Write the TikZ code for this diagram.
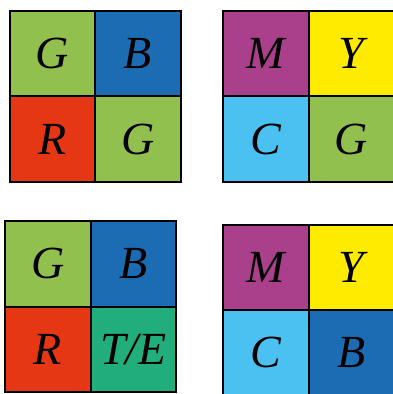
\documentclass[tikz,border=0pt]{standalone}
\usepackage{fontspec}
\setmainfont{Liberation Serif}
\usetikzlibrary{positioning}
\definecolor{pixgreen}{RGB}{146,192,78}
\definecolor{pixblue}{RGB}{28,108,180}
\definecolor{pixred}{RGB}{230,55,20}
\definecolor{pixmagenta}{RGB}{170,64,140}
\definecolor{pixyellow}{RGB}{255,235,0}
\definecolor{pixcyan}{RGB}{74,193,240}
\definecolor{pixteal}{RGB}{34,174,124}
\tikzstyle{pixel} = [
    rectangle,
    minimum size=85.5pt,
    inner sep=0pt,
    line width=2pt,
    draw=black,
    font=\fontsize{46}{46}\selectfont\itshape
]

\begin{document}
\begin{tikzpicture}[x=1pt, y=-1pt, node distance=85.5pt]
\useasboundingbox (0,0) rectangle (393,394);

% Bayer RGGB
\node (bayerG) [pixel, fill=pixgreen] at (52.25,53.5) {G};
\node (bayerB) [pixel, fill=pixblue, right of=bayerG] {B};
\node (bayerR) [pixel, fill=pixred, below of=bayerG] {R};
\node (bayerGG) [pixel, fill=pixgreen, right of=bayerR] {G};

% CMYG
\node (cmygM) [pixel, fill=pixmagenta] at (265.75,53.5) {M};
\node (cmygY) [pixel, fill=pixyellow, right of=cmygM] {Y};
\node (cmygC) [pixel, fill=pixcyan, below of=cmygM] {C};
\node (cmygG) [pixel, fill=pixgreen, right of=cmygC] {G};

% RGB + T/E
\node (rgbeG) [pixel, fill=pixgreen] at (47.75,263.75) {G};
\node (rgbeB) [pixel, fill=pixblue, right of=rgbeG] {B};
\node (rgbeR) [pixel, fill=pixred, below of=rgbeG] {R};
\node (rgbeE) [pixel, fill=pixteal, right of=rgbeR] {T/E};

% CMYB
\node (cmybM) [pixel, fill=pixmagenta] at (265.75,267.25) {M};
\node (cmybY) [pixel, fill=pixyellow, right of=cmybM] {Y};
\node (cmybC) [pixel, fill=pixcyan, below of=cmybM] {C};
\node (cmybB) [pixel, fill=pixblue, right of=cmybC] {B};

\end{tikzpicture}
\end{document}
